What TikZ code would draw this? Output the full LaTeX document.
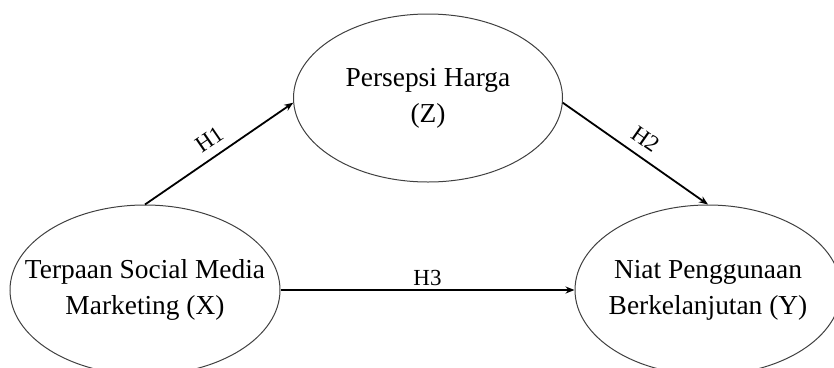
\documentclass[tikz,border=0pt]{standalone}
\usepackage{fontspec}
\setmainfont{Liberation Serif}
\usetikzlibrary{shapes.geometric,arrows.meta}
\begin{document}
\begin{tikzpicture}[x=1pt,y=-1pt,
  var/.style={draw=black!75,line width=1pt,ellipse,inner sep=0pt},
  vartext/.style={align=center,inner sep=0pt,font=\fontsize{27.4}{36}\selectfont},
  path/.style={draw=black,line width=1.8pt,-{Stealth[length=9pt,width=7pt]}},
  hyp/.style={font=\fontsize{23}{28}\selectfont,inner sep=2pt}]
\useasboundingbox (0,0) rectangle (834,367);
\clip (0,0) rectangle (834,367);
\node[var,minimum width=269pt,minimum height=168pt] (Z) at (428,98) {};
\node[vartext] (Zt) at (Z.center) {Persepsi Harga\\(Z)};
\node[var,minimum width=270pt,minimum height=170pt] (X) at (145,290) {};
\node[vartext] (Xt) at (X.center) {Terpaan Social Media\\Marketing (X)};
\node[var,minimum width=266pt,minimum height=170pt] (Y) at (708,290) {};
\node[vartext] (Yt) at (Y.center) {Niat Penggunaan\\Berkelanjutan (Y)};
\draw[path] (X.north) -- node[hyp,midway,above=7pt,sloped] {H1} (Z.182);
\draw[path] (Z.358) -- node[hyp,midway,above=7pt,sloped] {H2} (Y.north);
\draw[path] (X.east) -- node[hyp,midway,above=1pt] {H3} (Y.west);
\end{tikzpicture}
\end{document}
